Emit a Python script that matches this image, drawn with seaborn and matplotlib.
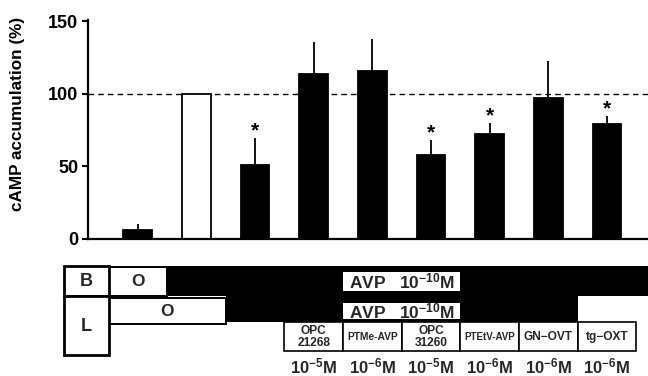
import numpy as np
import pandas as pd
import matplotlib
matplotlib.use("Agg")
import matplotlib.pyplot as plt
from matplotlib.patches import Rectangle
import seaborn as sns

# ---------------- data ----------------
conditions = ["basal", "AVP (B)", "AVP (B+L)", "OPC 21268", "PTMe-AVP",
              "OPC 31260", "PTEtV-AVP", "GN-OVT", "tg-OXT"]
camp_mean = [6, 100, 51, 114, 116, 58, 72, 97, 79]
camp_err = [4, 0, 18.5, 22, 22, 10, 8, 26, 6]
significant = [False, False, True, False, False, True, True, False, True]
bar_colors = ["black", "white", "black", "black", "black",
              "black", "black", "black", "black"]
basolateral_avp = [0, 1, 1, 1, 1, 1, 1, 1, 1]
luminal_avp = [0, 0, 1, 1, 1, 1, 1, 1, 0]
drug_labels = [None, None, None, "OPC\n21268", "PTMe-AVP", "OPC\n31260",
               "PTEtV-AVP", "GN\u2212OVT", "tg\u2212OXT"]
drug_conc = [None, None, None, "10$^{-5}$M", "10$^{-6}$M", "10$^{-5}$M",
             "10$^{-6}$M", "10$^{-6}$M", "10$^{-6}$M"]
yticks = [0, 50, 100, 150]
ylabel = "cAMP accumulation (%)"
avp_label = "AVP   10$^{-10}$M"
row_labels = ["B", "L"]
vehicle_label = "O"

# ---------------- style ----------------
sns.set_theme(style="ticks")
FONT = ["Liberation Sans", "DejaVu Sans"]
plt.rcParams["font.family"] = FONT
plt.rcParams["mathtext.fontset"] = "custom"
plt.rcParams["mathtext.rm"] = "Liberation Sans:bold"
plt.rcParams["mathtext.bf"] = "Liberation Sans:bold"
plt.rcParams["mathtext.it"] = "Liberation Sans:bold"
plt.rcParams["mathtext.default"] = "bf"

W, H = 648, 376
fig = plt.figure(figsize=(W / 100, H / 100), dpi=100)

XL, XR = -0.85, 8.70
ax = fig.add_axes([88 / W, 1 - 238.7 / H, (W - 88) / W, (238.7 - 20) / H])

df = pd.DataFrame({"condition": conditions, "camp": camp_mean})
sns.barplot(data=df, x="condition", y="camp", hue="condition", order=conditions,
            hue_order=conditions, palette=dict(zip(conditions, bar_colors)),
            width=0.49, edgecolor="black", linewidth=1.3, errorbar=None,
            legend=False, ax=ax)
xs = np.arange(len(conditions))
ax.errorbar(xs, camp_mean, yerr=[np.zeros(len(xs)), camp_err], fmt="none",
            ecolor="black", elinewidth=1.3, capsize=0, zorder=3)
for x, m, e, s in zip(xs, camp_mean, camp_err, significant):
    if s:
        ax.text(x, m + e + 1.0, "*", ha="center", va="baseline",
                fontsize=15, fontweight="bold", color="black")

ax.axhline(100, color="black", lw=1.0, ls=(0, (4, 3)), zorder=0)
ax.set_xlim(XL, XR)
ax.set_ylim(0, 151)
ax.set_yticks(yticks)
ax.set_xticks([])
ax.set_xlabel("")
ax.set_ylabel(ylabel, fontsize=12.3, fontweight="bold", color="black")
ax.yaxis.set_label_coords(-0.112, 0.57)
ax.tick_params(axis="y", length=4, width=1.5, pad=3, labelsize=13, colors="black")
for lbl in ax.get_yticklabels():
    lbl.set_fontweight("bold")
sns.despine(ax=ax)
for sp in ("left", "bottom"):
    ax.spines[sp].set_linewidth(1.6)
    ax.spines[sp].set_color("black")
ax.set_facecolor("white")

# ---------------- treatment table ----------------
tx = fig.add_axes([64 / W, 0, (W - 64) / W, (H - 262) / H])
TL = -1.26
tx.set_xlim(TL, XR)
tx.set_ylim(376, 262)
tx.axis("off")

LBL_X0, LBL_X1 = -1.255, -0.49
n = len(conditions)


def runs(flags, value):
    out, start = [], None
    for i, f in enumerate(flags):
        if f == value and start is None:
            start = i
        if f != value and start is not None:
            out.append((start, i - 1))
            start = None
    if start is not None:
        out.append((start, len(flags) - 1))
    return out


def span(a, b):
    left = LBL_X1 if a == 0 else a - 0.5
    right = XR if b == n - 1 else b + 0.5
    return left, right


def rect(x0, x1, y0, y1, fc, ec="none", lw=0, z=2):
    tx.add_patch(Rectangle((x0, y0), x1 - x0, y1 - y0, facecolor=fc,
                           edgecolor=ec, lw=lw, zorder=z, clip_on=False))


rows = [(basolateral_avp, 266, 296), (luminal_avp, 296, 322)]
for flags, y0, y1 in rows:
    for a, b in runs(flags, 1):
        l, r = span(a, b)
        rect(l, r, y0, y1, "black")
for k, (flags, y0, y1) in enumerate(rows):
    for a, b in runs(flags, 0):
        if a != 0:
            continue
        l, r = span(a, b)
        yy0 = y0 + 1 if k == 0 else y0 + 1.5
        yy1 = y1 if k == 0 else y1 + 1.5
        rect(l, r, yy0, yy1, "white", "black", 1.4, 3)
        tx.text((l + r) / 2, (yy0 + yy1) / 2 + 0.5, vehicle_label, ha="center",
                va="center", fontsize=12.5, fontweight="bold", zorder=4)

# AVP labels centered on the luminal AVP run
la, lb = runs(luminal_avp, 1)[0]
avp_c = (la + lb) / 2
for y0, y1 in [(271.5, 290.5), (302.5, 318.5)]:
    rect(avp_c - 1.0, avp_c + 1.0, y0, y1, "white", z=3)
    tx.text(avp_c, (y0 + y1) / 2 + 0.5, avp_label, ha="center", va="center",
            fontsize=12.5, fontweight="bold", zorder=4)

# drug boxes
for i, (dl, dc) in enumerate(zip(drug_labels, drug_conc)):
    if dl is None:
        continue
    rect(i - 0.5, i + 0.5, 322, 351, "white", "black", 1.2, 3)
    if "\n" in dl:
        fs = 8.6
    elif len(dl) > 8:
        fs = 7.0
    elif len(dl) > 6:
        fs = 7.4
    else:
        fs = 8.6
    tx.text(i, 337, dl, ha="center", va="center", fontsize=fs,
            fontweight="bold", linespacing=0.9, zorder=4)
    tx.text(i, 366, dc, ha="center", va="center", fontsize=12,
            fontweight="bold", zorder=4)

# row label boxes
for lab, (y0, y1) in zip(row_labels, [(266, 296), (296, 355)]):
    rect(LBL_X0, LBL_X1, y0, y1, "white", "black", 2.0, 5)
    tx.text((LBL_X0 + LBL_X1) / 2, (y0 + y1) / 2 + 1, lab, ha="center",
            va="center", fontsize=13, fontweight="bold", zorder=6)

fig.savefig("out.png", dpi=100, facecolor="white")
